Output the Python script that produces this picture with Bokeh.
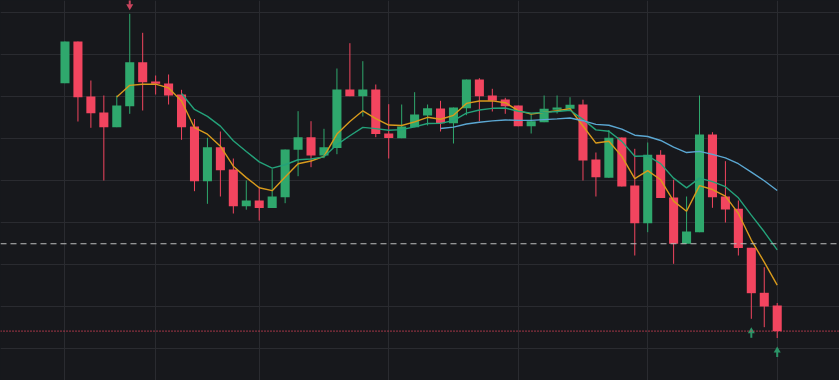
import numpy as np
from bokeh.plotting import figure
from bokeh.models import Range1d, FixedTicker, Grid, Span
from bokeh.embed import file_html
from bokeh.resources import INLINE

# ---- data (price units) ----
open_ = [29.73, 33.90, 28.40, 26.80, 25.33, 27.43, 31.83, 29.90, 29.70, 28.60,
         25.40, 19.93, 23.33, 21.10, 17.43, 18.00, 17.25, 18.33, 23.07, 24.33,
         22.50, 23.25, 29.10, 28.43, 29.10, 24.70, 24.23, 25.33, 26.50, 27.20,
         25.73, 27.23, 30.10, 28.50, 28.10, 27.50, 25.42, 25.83, 27.07, 27.17,
         27.60, 22.10, 20.27, 24.30, 19.50, 15.73, 22.58, 18.30, 13.67, 14.83,
         24.60, 18.40, 17.17, 13.27, 8.77, 7.50]
high = [33.90, 33.90, 30.00, 28.50, 28.50, 36.67, 34.77, 30.50, 30.60, 29.07,
        26.15, 24.27, 24.90, 22.20, 20.00, 19.37, 21.13, 23.10, 26.93, 25.93,
        25.17, 31.20, 33.73, 31.93, 29.60, 27.63, 27.60, 28.83, 27.60, 27.97,
        27.30, 30.10, 30.23, 29.17, 28.27, 27.50, 26.63, 28.50, 28.50, 28.33,
        28.08, 22.80, 25.05, 24.30, 23.17, 23.80, 23.03, 20.08, 18.40, 28.50,
        24.83, 21.93, 18.00, 13.27, 11.33, 7.75]
low = [29.73, 25.90, 25.27, 20.00, 25.33, 26.67, 27.00, 28.60, 27.60, 24.07,
       18.93, 17.67, 18.40, 16.70, 17.08, 16.00, 17.25, 17.73, 20.43, 21.33,
       22.23, 22.63, 28.43, 26.40, 24.33, 22.20, 24.23, 25.33, 25.50, 24.90,
       23.70, 26.53, 25.92, 26.90, 26.67, 25.42, 24.70, 25.83, 26.70, 27.17,
       20.00, 18.40, 20.27, 19.40, 12.50, 14.83, 18.25, 11.67, 13.67, 14.83,
       17.27, 15.80, 12.50, 6.17, 5.33, 4.25]
close = [33.90, 28.33, 26.73, 25.33, 27.50, 31.83, 29.83, 29.67, 28.50, 25.33,
         19.93, 23.33, 21.03, 17.43, 18.00, 17.25, 18.40, 23.10, 24.33, 22.50,
         23.33, 29.10, 28.43, 29.10, 24.65, 24.25, 25.40, 26.60, 27.23, 25.73,
         27.30, 30.10, 28.42, 27.98, 27.42, 25.42, 25.92, 27.17, 27.30, 27.58,
         22.00, 20.33, 24.27, 19.40, 15.73, 22.58, 18.25, 13.67, 14.90, 24.60,
         18.33, 17.10, 13.25, 8.73, 7.40, 4.93]

ema_periods = [5, 10, 30]
ema_colors = ["#d89a1c", "#24a27a", "#5ba7d2"]

level_price = 13.67            # dashed horizontal price line
up_marker_bars = [53, 55]      # arrows below bar
down_marker_bars = [5]         # arrow above bar

x_grid_bars = [0, 7, 15, 25, 35, 45, 55]
y_grid_prices = [3.17, 7.38, 11.59, 15.79, 20.0, 24.21, 28.42, 32.62, 36.83]

# ---- style ----
BG = "#17181c"
GRID = "#2a2b30"
UP = "#2fa86d"
DOWN = "#f2455f"
UP_MARK = "#2b9467"
DOWN_MARK = "#c9445d"


def ema(vals, n):
    out = [np.nan] * len(vals)
    if len(vals) < n:
        return out
    out[n - 1] = float(np.mean(vals[:n]))
    k = 2.0 / (n + 1)
    for i in range(n, len(vals)):
        out[i] = out[i - 1] + (vals[i] - out[i - 1]) * k
    return out


idx = list(range(len(close)))
colors = [UP if c >= o else DOWN for o, c in zip(open_, close)]
tops = [max(o, c) for o, c in zip(open_, close)]
bottoms = [min(o, c) for o, c in zip(open_, close)]

p = figure(width=839, height=380,
           x_range=Range1d(-4.98, 59.81), y_range=Range1d(0.0, 38.0),
           output_backend="svg", toolbar_location=None,
           x_axis_location=None, y_axis_location=None,
           min_border=0, background_fill_color=BG, border_fill_color=BG,
           outline_line_color=None)
p.grid.visible = False

p.add_layout(Grid(dimension=0, ticker=FixedTicker(ticks=x_grid_bars),
                  grid_line_color=GRID, grid_line_width=1))
p.add_layout(Grid(dimension=1, ticker=FixedTicker(ticks=y_grid_prices),
                  grid_line_color=GRID, grid_line_width=1))

p.add_layout(Span(location=level_price, dimension="width", line_color="#bdbdbd",
                  line_dash="6 4", line_width=1.1))
p.add_layout(Span(location=close[-1], dimension="width", line_color=colors[-1],
                  line_dash="1 2", line_width=1.2))

p.segment(x0=idx, y0=low, x1=idx, y1=high, line_color=colors, line_width=1)
p.vbar(x=idx, bottom=bottoms, top=tops, width=0.7, fill_color=colors,
       line_color=None)

for n, col in zip(ema_periods, ema_colors):
    vals = ema(close, n)
    xs = [i for i, v in zip(idx, vals) if not np.isnan(v)]
    ys = [v for v in vals if not np.isnan(v)]
    p.line(xs, ys, line_color=col, line_width=1.4)

# arrow markers (head + stem), offset from bar extremes
ux = up_marker_bars
ulow = [low[i] for i in ux]
p.scatter(x=ux, y=[v - 1.25 for v in ulow], marker="triangle", size=7,
          fill_color=UP_MARK, line_color=None)
p.segment(x0=ux, y0=[v - 1.4 for v in ulow], x1=ux, y1=[v - 1.9 for v in ulow],
          line_color=UP_MARK, line_width=2)

dx = down_marker_bars
dhigh = [high[i] for i in dx]
p.scatter(x=dx, y=[v + 0.75 for v in dhigh], marker="inverted_triangle", size=7,
          fill_color=DOWN_MARK, line_color=None)
p.segment(x0=dx, y0=[v + 0.9 for v in dhigh], x1=dx, y1=[v + 1.5 for v in dhigh],
          line_color=DOWN_MARK, line_width=2)

html = file_html(p, INLINE)
html = html.replace("<head>", "<head><style>body{background:%s;}</style>" % BG, 1)
open("out.html", "w").write(html)
